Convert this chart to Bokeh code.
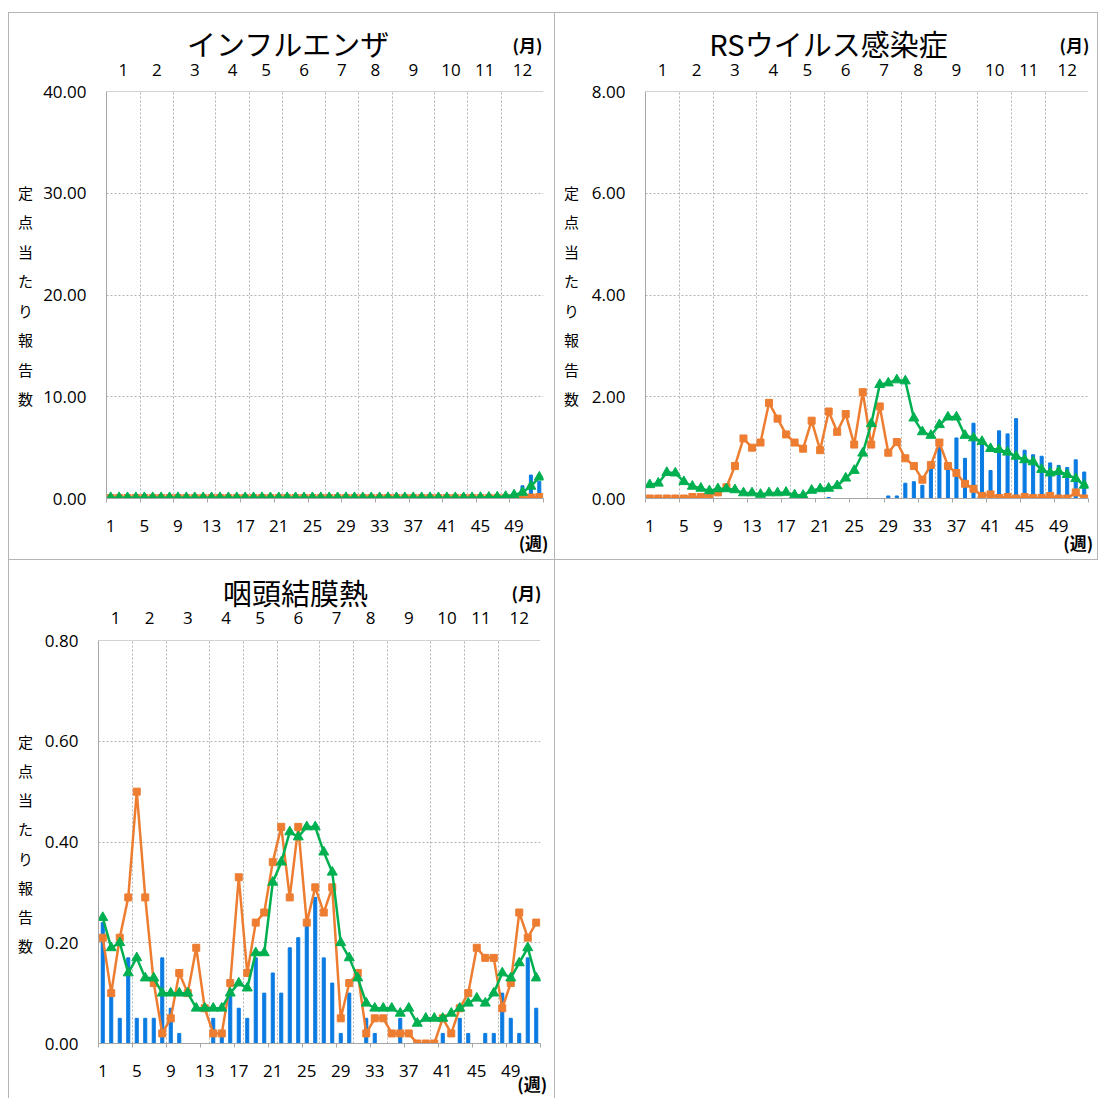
from bokeh.plotting import figure
from bokeh.models import Range1d, FixedTicker, LinearAxis, Label, PrintfTickFormatter, Span, Spacer
from bokeh.layouts import column, row
from bokeh.embed import file_html
from bokeh.resources import INLINE

# ---------------- data ----------------
weeks = [1, 2, 3, 4, 5, 6, 7, 8, 9, 10, 11, 12, 13, 14, 15, 16, 17, 18, 19, 20, 21, 22, 23, 24, 25, 26,
         27, 28, 29, 30, 31, 32, 33, 34, 35, 36, 37, 38, 39, 40, 41, 42, 43, 44, 45, 46, 47, 48, 49, 50, 51, 52]
week_tick_weeks = [1, 5, 9, 13, 17, 21, 25, 29, 33, 37, 41, 45, 49]
month_labels = ["1", "2", "3", "4", "5", "6", "7", "8", "9", "10", "11", "12"]
month_weeks = [4, 4, 5, 4, 4, 5, 4, 4, 5, 4, 4, 5]
y_title = "定点当たり報告数"
month_unit = "(月)"
week_unit = "(週)"

flu_title = "インフルエンザ"
flu_this = [0, 0, 0, 0, 0, 0, 0, 0, 0, 0, 0, 0, 0, 0, 0, 0, 0, 0, 0, 0, 0, 0, 0, 0, 0, 0,
            0, 0, 0, 0, 0, 0, 0, 0, 0, 0, 0, 0, 0, 0, 0, 0, 0, 0, 0, 0, 0, 0.05, 0.2, 1.25, 2.3, 1.7]
flu_prev = [0.05, 0.05, 0.05, 0.05, 0.05, 0.05, 0.05, 0.05, 0.05, 0.05, 0.05, 0.05, 0.05, 0.05, 0.05, 0.05,
            0.05, 0.05, 0.05, 0.05, 0.05, 0.05, 0.05, 0.05, 0.05, 0.05, 0.05, 0.05, 0.05, 0.05, 0.05, 0.05,
            0.05, 0.05, 0.05, 0.05, 0.05, 0.05, 0.05, 0.05, 0.05, 0.05, 0.05, 0.05, 0.05, 0.05, 0.05, 0.05,
            0.05, 0.05, 0.1, 0.15]
flu_avg = [0.08, 0.08, 0.08, 0.08, 0.08, 0.08, 0.08, 0.08, 0.08, 0.08, 0.08, 0.08, 0.08, 0.08, 0.08, 0.08,
           0.08, 0.08, 0.08, 0.08, 0.08, 0.08, 0.08, 0.08, 0.08, 0.08, 0.08, 0.08, 0.08, 0.08, 0.08, 0.08,
           0.08, 0.08, 0.08, 0.08, 0.08, 0.08, 0.08, 0.08, 0.08, 0.08, 0.08, 0.08, 0.1, 0.12, 0.15, 0.2,
           0.35, 0.6, 1.2, 2.1]
flu_yticks = [0, 10, 20, 30, 40]

rs_title = "RSウイルス感染症"
rs_this = [0, 0, 0, 0, 0, 0, 0, 0, 0, 0, 0, 0, 0, 0, 0, 0, 0, 0, 0, 0, 0, 0.02, 0, 0, 0, 0,
           0, 0, 0.05, 0.05, 0.30, 0.33, 0.26, 0.64, 1.00, 0.62, 1.19, 0.79, 1.48, 1.10, 0.55, 1.33,
           1.27, 1.57, 0.95, 0.86, 0.83, 0.70, 0.65, 0.61, 0.76, 0.52]
rs_prev = [0, 0, 0, 0, 0, 0.03, 0.03, 0.06, 0.12, 0.22, 0.64, 1.18, 1.00, 1.10, 1.88, 1.57, 1.26, 1.10,
           0.98, 1.53, 0.95, 1.71, 1.31, 1.66, 1.06, 2.09, 1.06, 1.81, 0.90, 1.11, 0.79, 0.64, 0.37, 0.66,
           1.10, 0.64, 0.50, 0.29, 0.19, 0.05, 0.08, 0.01, 0.03, 0.0, 0.03, 0.01, 0.01, 0.05, 0.0, 0.0,
           0.12, 0.0]
rs_avg = [0.27, 0.30, 0.51, 0.50, 0.33, 0.24, 0.20, 0.15, 0.19, 0.19, 0.17, 0.11, 0.11, 0.08, 0.11, 0.11,
          0.12, 0.07, 0.06, 0.16, 0.19, 0.20, 0.25, 0.40, 0.55, 0.89, 1.47, 2.24, 2.27, 2.33, 2.31, 1.58,
          1.31, 1.24, 1.45, 1.60, 1.60, 1.24, 1.19, 1.12, 0.98, 0.96, 0.91, 0.83, 0.76, 0.72, 0.57, 0.50,
          0.53, 0.47, 0.39, 0.26]
rs_yticks = [0, 2, 4, 6, 8]

pcf_title = "咽頭結膜熱"
pcf_this = [0.24, 0.10, 0.05, 0.17, 0.05, 0.05, 0.05, 0.17, 0.07, 0.02, 0, 0, 0, 0.05, 0.02, 0.10, 0.07,
            0.05, 0.17, 0.10, 0.14, 0.10, 0.19, 0.21, 0.24, 0.29, 0.17, 0.12, 0.02, 0.10, 0, 0.05, 0.02,
            0, 0, 0.05, 0, 0, 0, 0, 0.02, 0, 0.05, 0.02, 0, 0.02, 0.02, 0.10, 0.05, 0.02, 0.17, 0.07]
pcf_prev = [0.21, 0.10, 0.21, 0.29, 0.50, 0.29, 0.12, 0.02, 0.05, 0.14, 0.10, 0.19, 0.07, 0.02, 0.02, 0.12,
            0.33, 0.14, 0.24, 0.26, 0.36, 0.43, 0.29, 0.43, 0.24, 0.31, 0.26, 0.31, 0.05, 0.12, 0.14, 0.02,
            0.05, 0.05, 0.02, 0.02, 0.02, 0.00, 0.00, 0.00, 0.05, 0.02, 0.07, 0.10, 0.19, 0.17, 0.17, 0.07,
            0.12, 0.26, 0.21, 0.24]
pcf_avg = [0.25, 0.19, 0.20, 0.14, 0.17, 0.13, 0.13, 0.10, 0.10, 0.10, 0.10, 0.07, 0.07, 0.07, 0.07, 0.10,
           0.12, 0.11, 0.18, 0.18, 0.32, 0.36, 0.42, 0.41, 0.43, 0.43, 0.38, 0.34, 0.20, 0.17, 0.13, 0.08,
           0.07, 0.07, 0.07, 0.06, 0.07, 0.04, 0.05, 0.05, 0.05, 0.06, 0.07, 0.08, 0.09, 0.08, 0.10, 0.14,
           0.13, 0.16, 0.19, 0.13]
pcf_yticks = [0, 0.2, 0.4, 0.6, 0.8]

# ---------------- style ----------------
BLUE = "#0A7BE2"
ORANGE = "#ED7D31"
GREEN = "#00B050"
GRID = "#b3b3b3"
AXIS = "#a6a6a6"
BORDER = "1px solid #b4b4b4"
JP = "Noto Sans CJK JP"
NUM = "Open Sans"

# week-edge and month positions derived from the categories
edges = [w - 0.5 for w in weeks] + [weeks[-1] + 0.5]
tick_edges = [edges[i] for i in range(0, len(edges), 4)]
bounds = [edges[0]]
for n in month_weeks:
    bounds.append(bounds[-1] + n)
month_mids = [(bounds[i] + bounds[i + 1]) / 2 for i in range(12)]


def blank(w, h, yr, transparent=False):
    """A text-only figure without axes; x in pixels from its left, y in the given range."""
    f = figure(width=w, height=h, output_backend="svg", toolbar_location=None,
               x_range=Range1d(0, w), y_range=Range1d(*yr),
               x_axis_location=None, y_axis_location=None, min_border=0)
    f.grid.visible = False
    f.outline_line_color = None
    if transparent:
        f.background_fill_alpha = 0
        f.border_fill_alpha = 0
    else:
        f.background_fill_color = "white"
        f.border_fill_color = "white"
    return f


def txt(f, text, x, y, size, bold=False, align="center", font=JP):
    f.add_layout(Label(x=x, y=y, text=text, text_align=align, text_baseline="middle",
                       text_font_size=f"{size}px", text_font=font,
                       text_font_style="bold" if bold else "normal", text_color="black"))


def make_main(cur, prev, avg, yticks, W, H, ml, mr, mt, mb, month_standoff, week_unit_x, week_unit_standoff):
    p = figure(width=W, height=H, output_backend="svg", toolbar_location=None,
               x_range=Range1d(edges[0], edges[-1]), y_range=Range1d(yticks[0], yticks[-1]),
               min_border_left=ml, min_border_right=mr, min_border_top=mt, min_border_bottom=mb)
    p.outline_line_color = None
    p.background_fill_color = "white"
    p.border_fill_alpha = 0

    # grids
    p.ygrid.ticker = FixedTicker(ticks=yticks)
    p.xgrid.ticker = FixedTicker(ticks=bounds[1:-1])
    for g in (p.xgrid[0], p.ygrid[0]):
        g.grid_line_color = GRID
        g.grid_line_dash = "2 2"
        g.grid_line_width = 1
    p.add_layout(Span(location=yticks[-1], dimension="width", line_color=AXIS, line_width=1))

    # y axis
    ya = p.yaxis[0]
    ya.ticker = FixedTicker(ticks=yticks)
    ya.formatter = PrintfTickFormatter(format="%.2f")
    ya.axis_line_color = AXIS
    ya.major_tick_line_color = None
    ya.minor_tick_line_color = None
    ya.major_tick_out = 0
    ya.major_tick_in = 0
    ya.major_label_standoff = 20
    ya.major_label_text_font = NUM
    ya.major_label_text_font_size = "17px"
    ya.major_label_text_color = "black"

    # x axis (weeks)
    xa = p.xaxis[0]
    xa.ticker = FixedTicker(ticks=week_tick_weeks, minor_ticks=tick_edges)
    xa.axis_line_color = AXIS
    xa.major_tick_line_color = None
    xa.major_tick_out = 0
    xa.major_tick_in = 0
    xa.minor_tick_line_color = AXIS
    xa.minor_tick_out = 4
    xa.minor_tick_in = 0
    xa.major_label_standoff = 17
    xa.major_label_text_font = NUM
    xa.major_label_text_font_size = "17px"
    xa.major_label_text_color = "black"

    # unit of the week axis, one row below it
    wa = LinearAxis(ticker=FixedTicker(ticks=[week_unit_x]),
                    major_label_overrides={week_unit_x: week_unit},
                    axis_line_color=None, major_tick_line_color=None, minor_tick_line_color=None,
                    major_tick_out=0, major_tick_in=0, major_label_standoff=week_unit_standoff,
                    major_label_text_font=JP, major_label_text_font_size="17px",
                    major_label_text_font_style="bold", major_label_text_color="black")
    p.add_layout(wa, "below")

    # top axis (months)
    ta = LinearAxis(ticker=FixedTicker(ticks=month_mids),
                    major_label_overrides={m: lab for m, lab in zip(month_mids, month_labels)},
                    axis_line_color=None, major_tick_line_color=None, minor_tick_line_color=None,
                    major_tick_out=0, major_tick_in=0, major_label_standoff=month_standoff,
                    major_label_text_font=NUM, major_label_text_font_size="17px",
                    major_label_text_color="black")
    p.add_layout(ta, "above")

    # series
    p.vbar(x=weeks, top=cur, width=0.36, bottom=0, color=BLUE)
    p.line(weeks, prev, color=ORANGE, line_width=2.5)
    p.scatter(weeks, prev, marker="square", size=7, color=ORANGE)
    p.line(weeks, avg, color=GREEN, line_width=2.5)
    p.scatter(weeks, avg, marker="triangle", size=10, color=GREEN)
    return p


def make_panel(title, cur, prev, avg, yticks, inner_w, head_h, overlap, main_h, ml, mr, mt, mb,
               title_xy, month_xy, frame_px, ylab_first, ylab_step, month_standoff,
               week_unit_x, week_unit_standoff, styles):
    strip_w = 30
    head = blank(inner_w, head_h, (head_h, 0))
    txt(head, title, title_xy[0], title_xy[1], 29)
    txt(head, month_unit, month_xy[0], month_xy[1], 17, bold=True)
    # the strip's frame lines up with the chart's frame (page rows frame_px[0]..frame_px[1])
    ylab = blank(strip_w, main_h, (frame_px[1], frame_px[0]), transparent=True)
    for i, ch in enumerate(y_title):
        txt(ylab, ch, 16, ylab_first + i * ylab_step, 15)
    main = make_main(cur, prev, avg, yticks, inner_w - strip_w, main_h, ml, mr, mt, mb,
                     month_standoff, week_unit_x, week_unit_standoff)
    body = row(ylab, main, styles={"margin-top": f"-{overlap}px"})
    return column(head, body, styles=styles)


# panel 1: inner box x 9..554, y 13..559 ; header 13..75 ; body 53..559 ; frame 91..498
panel1 = make_panel(flu_title, flu_this, flu_prev, flu_avg, flu_yticks,
                    545, 62, 22, 506, 67, 11, 38, 61, (279, 29), (518, 31), (91, 498), 192, 29.43,
                    16, 51.32, -5, {"border": BORDER})
# panel 2: inner box x 555..1097, y 13..559 ; frame 91..498
panel2 = make_panel(rs_title, rs_this, rs_prev, rs_avg, rs_yticks,
                    542, 62, 22, 506, 60, 9, 38, 61, (273, 29), (519, 31), (91, 498), 192, 29.43,
                    16, 51.3, -5, {"border-top": BORDER, "border-right": BORDER, "border-bottom": BORDER})
# panel 3: inner box x 9..554, y 560..1098 ; header 560..622 ; body 601..1098 ; frame 640..1044
panel3 = make_panel(pcf_title, pcf_this, pcf_prev, pcf_avg, pcf_yticks,
                    545, 62, 21, 497, 59, 14, 39, 54, (286, 31), (517, 32), (640, 1044), 741, 29.3,
                    17, 51.52, -9, {"border-left": BORDER, "border-right": BORDER})

layout = column(Spacer(height=12),
                row(Spacer(width=8, height=10), panel1, panel2),
                row(Spacer(width=8, height=10), panel3))
open("out.html", "w").write(file_html(layout, INLINE))
